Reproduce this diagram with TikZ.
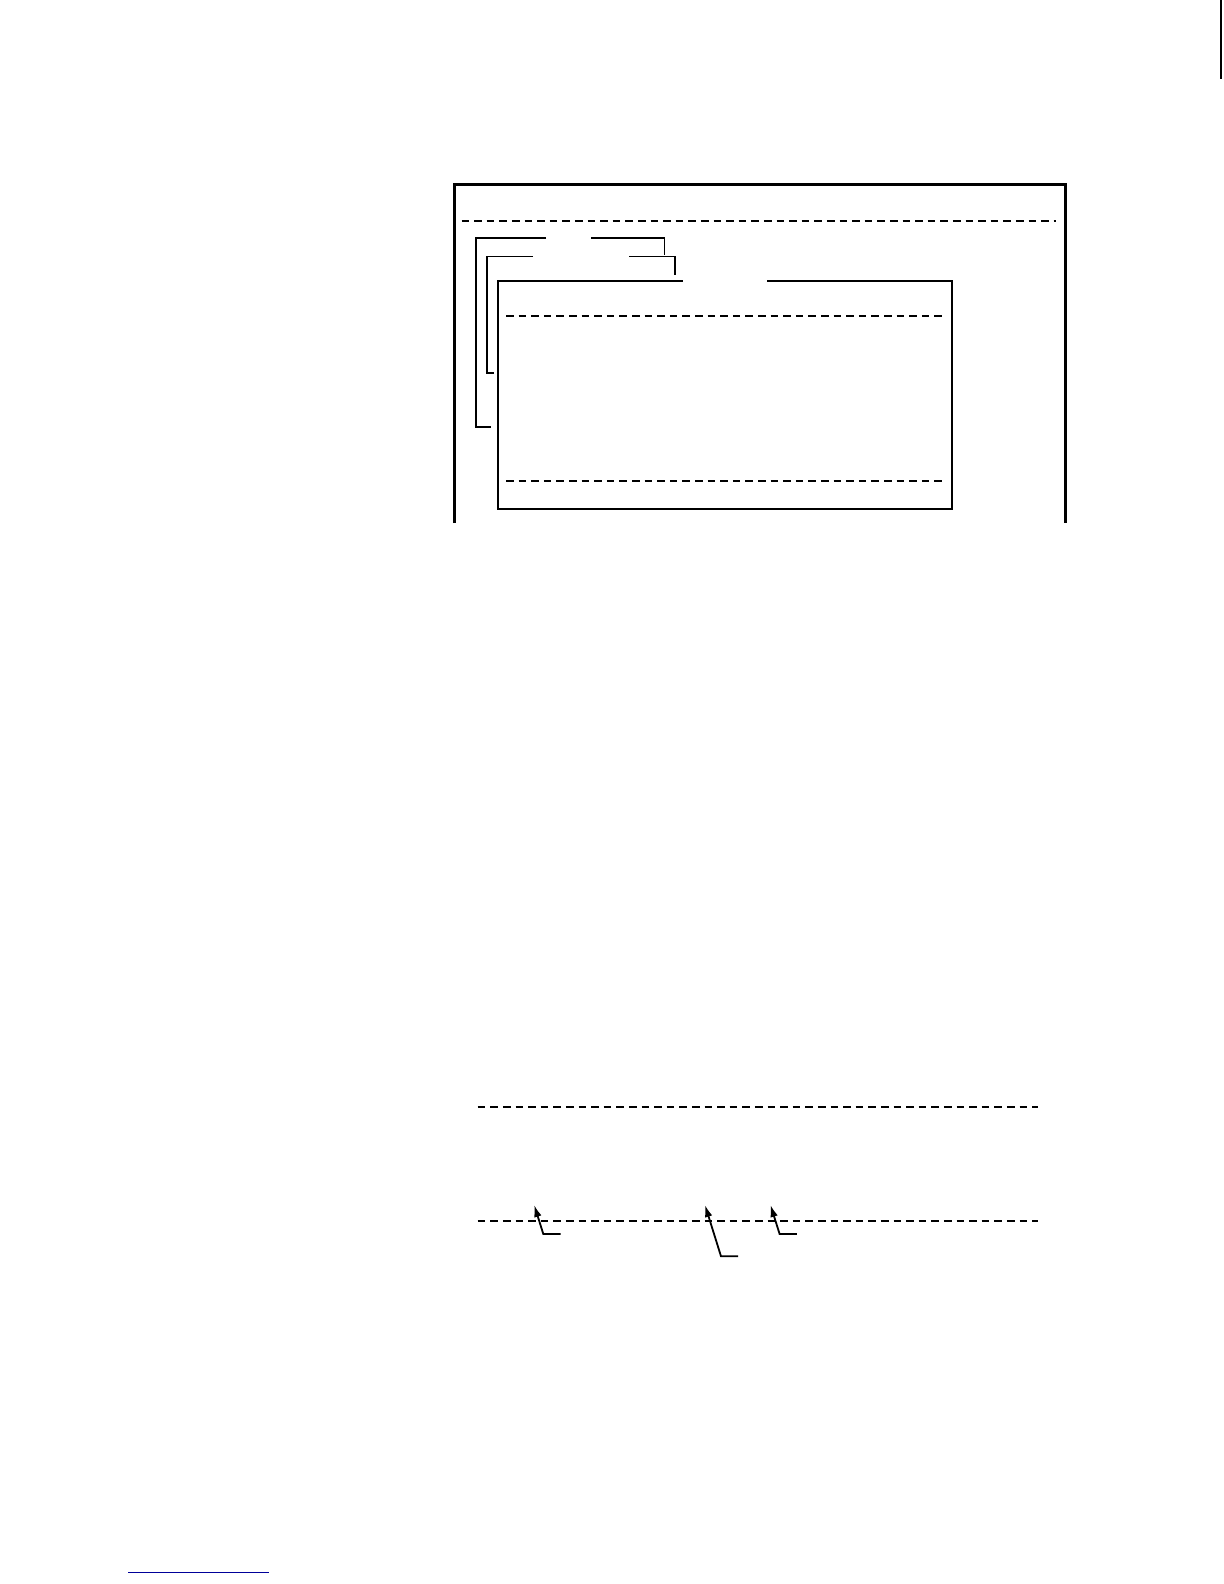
\documentclass[tikz,border=0pt]{standalone}
\usetikzlibrary{arrows.meta}
\begin{document}
\begin{tikzpicture}[x=0.5pt,y=-0.5pt,line width=0.9pt,
		frame/.style={line width=1.4pt},
		dashline/.style={dash pattern=on 3.8pt off 2.5pt},
		pointer/.style={-{Latex[length=6pt,width=3.8pt]}}]
		\useasboundingbox (0,0) rectangle (1224,1584);

		\draw[frame] (454.5,523) -- (454.5,184.8) -- (1065.5,184.8) -- (1065.5,523);
		\draw[dashline] (461.5,221) -- (1055.5,221);

		\draw (546,238) -- (475.7,238) -- (475.7,427) -- (491,427);
		\draw (591,238) -- (664.5,238) -- (664.5,254.5);
		\draw (533,256.5) -- (487,256.5) -- (487,372.7) -- (494,372.7);
		\draw (629,256.5) -- (674.6,256.5) -- (674.6,274.7);

		\draw (682.7,280.8) -- (498,280.8) -- (498,509) -- (952.3,509) -- (952.3,280.8) -- (766.5,280.8);
		\draw[dashline] (506,316) -- (942.3,316);
		\draw[dashline] (506,480.7) -- (942.3,480.7);

		\draw[dashline] (477.7,1106.8) -- (1038,1106.8);
		\draw[dashline] (477.7,1221) -- (1038,1221);

		\draw[pointer] (560.5,1234) -- (543.3,1234) -- (534.2,1205);
		\draw[pointer] (738.2,1256.3) -- (721,1256.3) -- (705,1205);
		\draw[pointer] (796.8,1234) -- (779.6,1234) -- (770.5,1205);

		\draw[line width=0.6pt] (1221,0) -- (1221,78.8);
		\draw[blue!60!black] (128.3,1572.4) -- (268.6,1572.4);
	\end{tikzpicture}
\end{document}
